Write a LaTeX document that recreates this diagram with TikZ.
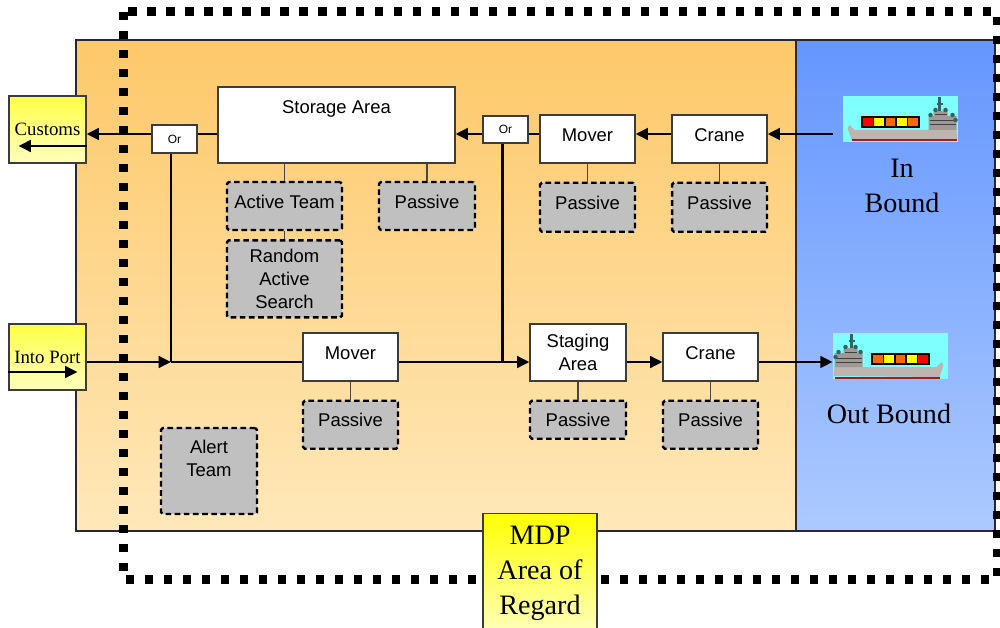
\documentclass[tikz,border=0pt]{standalone}
\usepackage{fontspec}
\setmainfont{Liberation Sans}
\newfontfamily\timesfont{Liberation Serif}
\usepackage{xcolor}
\usetikzlibrary{arrows.meta, positioning}

\definecolor{orangetop}{RGB}{253,200,105}
\definecolor{orangebot}{RGB}{255,232,185}
\definecolor{bluetop}{RGB}{100,150,255}
\definecolor{bluebot}{RGB}{172,202,255}
\definecolor{yellowtop}{RGB}{255,255,70}
\definecolor{yellowbot}{RGB}{255,255,190}
\definecolor{passivegray}{RGB}{192,192,192}
\definecolor{boxline}{RGB}{60,60,60}
\definecolor{linkgray}{RGB}{70,70,70}
\definecolor{panelline}{RGB}{40,40,50}
\definecolor{seacyan}{RGB}{128,255,255}
\definecolor{hullgray}{RGB}{190,180,176}
\definecolor{keelred}{RGB}{160,30,30}
\definecolor{mastteal}{RGB}{50,100,100}
\definecolor{boxred}{RGB}{255,0,0}
\definecolor{boxyellow}{RGB}{255,255,0}
\definecolor{boxorange}{RGB}{255,102,0}

\tikzset{
  cargoship/.pic={
    % hull and keel
    \fill[hullgray] (-53,9) -- (-51,6) -- (-48,9) -- (-46,11) -- (56,11) -- (57,20) -- (-49,21) -- cycle;
    \draw[keelred, line width=0.04cm] (-49,21.5) -- (56,21.5);
    % bridge and mast
    \fill[hullgray!85!black] (28,11) -- (28,-3) -- (33,-3) -- (33,-8) -- (47,-8) -- (47,-3) -- (56,-3) -- (56,11) -- cycle;
    \draw[darkgray, line width=0.02cm] (29,2) -- (55,2) (29,6) -- (55,6) (34,-4) -- (46,-4);
    \draw[mastteal, line width=0.05cm] (39,-8) -- (39,-22);
    \draw[mastteal, line width=0.03cm] (36,-15) -- (42,-15);
    \foreach \dx/\dy in {30/-4, 35/-9, 45/-9, 52/-4, 55/1}
      \fill[mastteal] (\dx,\dy) circle (0.045cm);
    % containers
    \foreach \c [count=\i from 0] in {boxred,boxyellow,boxorange,boxyellow,boxorange}
      \filldraw[fill=\c, draw=black, line width=0.03cm] (-38.5+11.4*\i,-2) rectangle ++(11.4,10);
  }
}

\begin{document}
\begin{tikzpicture}[
    x=0.02cm, y=-0.02cm,
    node distance=0.36cm,
    box/.style={rectangle, draw=boxline, line width=0.6pt, fill=white, inner sep=0pt, align=center, font=\fontsize{10.5}{13}\selectfont},
    lift/.style={text height=8pt, text depth=5.5pt},
    passive/.style={box, draw=black, fill=passivegray, line width=1.4pt, dash pattern=on 3.2pt off 2pt, rounded corners=1pt},
    orbox/.style={box, minimum width=0.9cm, minimum height=0.56cm, font=\fontsize{6.8}{8}\selectfont},
    edgebox/.style={rectangle, draw=boxline, line width=0.6pt, top color=yellowtop, bottom color=yellowbot, inner sep=0pt, font=\timesfont\fontsize{10.7}{12}\selectfont},
    shipbox/.style={rectangle, fill=seacyan, minimum width=2.3cm, minimum height=0.92cm, inner sep=0pt},
    bigtext/.style={align=center, inner sep=0pt, font=\timesfont\fontsize{16}{19.5}\selectfont},
    regionline/.style={line width=0.18cm, dash pattern=on 0.17cm off 0.21cm},
    arrow/.style={-{Triangle[length=7pt,width=6.5pt]}, line width=1.7pt},
    flow/.style={line width=1.7pt},
    link/.style={line width=0.6pt, draw=linkgray}
]
\useasboundingbox (0,0) rectangle (1000,628);

% port and sea panels
\shadedraw[top color=orangetop, bottom color=orangebot, draw=panelline, line width=0.6pt] (76,40) rectangle (796,531);
\shadedraw[top color=bluetop, bottom color=bluebot, draw=panelline, line width=0.6pt] (796,40) rectangle (995,531);

% area boundary
\draw[regionline] (123,12) rectangle (997,579);

% inbound row
\node[box, minimum width=4.74cm, minimum height=1.52cm, text height=0.52cm, text depth=1.0cm] (storage) at (336.5,125) {Storage Area};
\node[orbox] (or1) at (174.5,139) {Or};
\node[orbox, minimum height=0.54cm] (or2) at (505.5,129.5) {Or};
\node[box, lift, minimum width=1.9cm, minimum height=0.96cm] (mover1) at (587.5,139) {Mover};
\node[box, lift, minimum width=1.9cm, minimum height=0.96cm] (crane1) at (719.5,139) {Crane};

\node[passive, lift, minimum width=2.3cm, minimum height=0.96cm] (active) at (284.5,206) {Active Team};
\node[passive, minimum width=2.3cm, minimum height=1.54cm, below=0.16cm of active] (random) {Random\\Active\\Search};
\node[passive, lift, minimum width=1.92cm, minimum height=0.96cm] (storepass) at (427,206) {Passive};
\node[passive, lift, minimum width=1.9cm, minimum height=0.98cm, below=of mover1] (moverpass) {Passive};
\node[passive, lift, minimum width=1.9cm, minimum height=0.98cm, below=of crane1] (cranepass) {Passive};

% outbound row
\node[box, lift, minimum width=1.9cm, minimum height=0.96cm] (mover2) at (350.5,357) {Mover};
\node[box, minimum width=1.92cm, minimum height=1.14cm] (staging) at (578,352.5) {Staging\\Area};
\node[box, lift, minimum width=1.9cm, minimum height=0.96cm] (crane2) at (710.5,357) {Crane};

\node[passive, lift, minimum width=1.9cm, minimum height=0.96cm, below=of mover2] (mover2pass) {Passive};
\node[passive, minimum width=1.92cm, minimum height=0.76cm, below=of staging] (stagepass) {Passive};
\node[passive, lift, minimum width=1.9cm, minimum height=0.96cm, below=of crane2] (crane2pass) {Passive};

\node[passive, minimum width=1.92cm, minimum height=1.72cm] (alert) at (209,471) {Alert\\Team\\[1pt]~};

% entry and exit points
\node[edgebox, minimum width=1.54cm, minimum height=1.34cm] (customs) at (47.5,129.5) {Customs};
\node[edgebox, minimum width=1.54cm, minimum height=1.32cm] (intoport) at (47.5,357) {Into Port};

\node[shipbox] (shipin) at (900.5,119) {};
\pic at (shipin.center) {cargoship};
\node[shipbox] (shipout) at (890.5,356) {};
\pic[xscale=-1] at (shipout.center) {cargoship};

\node[bigtext] (inbound) at (902,186) {In\\Bound};
\node[bigtext] (outbound) at (889,414) {Out Bound};

\node[edgebox, top color=boxyellow, bottom color=yellowbot, anchor=north, minimum width=2.28cm, minimum height=2.4cm, align=center, font=\timesfont\fontsize{16}{20}\selectfont] (mdp) at (540,513) {MDP\\Area of\\Regard};

% flow lines
\coordinate (toprow) at (0,134);
\coordinate (lowrow) at (0,362);
\coordinate (tap1) at (171,362);
\coordinate (tap2) at (502,362);

\draw[arrow, shorten <=0.2cm] (shipin.west |- toprow) -- (crane1.east |- toprow);
\draw[arrow] (crane1.west |- toprow) -- (mover1.east |- toprow);
\draw[flow] (mover1.west |- toprow) -- (or2.east |- toprow);
\draw[arrow] (or2.west |- toprow) -- (storage.east |- toprow);
\draw[flow] (storage.west |- toprow) -- (or1.east |- toprow);
\draw[arrow] (or1.west |- toprow) -- (customs.east |- toprow);
\draw[arrow] ([yshift=-0.33cm]customs.east) -- ([xshift=0.2cm, yshift=-0.33cm]customs.west);

\draw[arrow] ([yshift=-0.3cm]intoport.west) -- ([xshift=-0.18cm, yshift=-0.3cm]intoport.east);
\draw[arrow] (intoport.east |- lowrow) -- (tap1);
\draw[flow] (tap1 |- or1.south) -- (tap1);
\draw[flow] (tap1) -- (mover2.west |- lowrow);
\draw[flow] (tap2 |- or2.south) -- (tap2);
\draw[arrow] (mover2.east |- lowrow) -- (staging.west |- lowrow);
\draw[arrow] (staging.east |- lowrow) -- (crane2.west |- lowrow);
\draw[arrow] (crane2.east |- lowrow) -- (shipout.west |- lowrow);

% resource links
\draw[link] (active.north |- storage.south) -- (active.north);
\draw[link] (storepass.north |- storage.south) -- (storepass.north);
\draw[link] (active.south) -- (random.north);
\draw[link] (mover1.south) -- (moverpass.north);
\draw[link] (crane1.south) -- (cranepass.north);
\draw[link] (mover2.south) -- (mover2pass.north);
\draw[link] (staging.south) -- (stagepass.north);
\draw[link] (crane2.south) -- (crane2pass.north);
\end{tikzpicture}
\end{document}
